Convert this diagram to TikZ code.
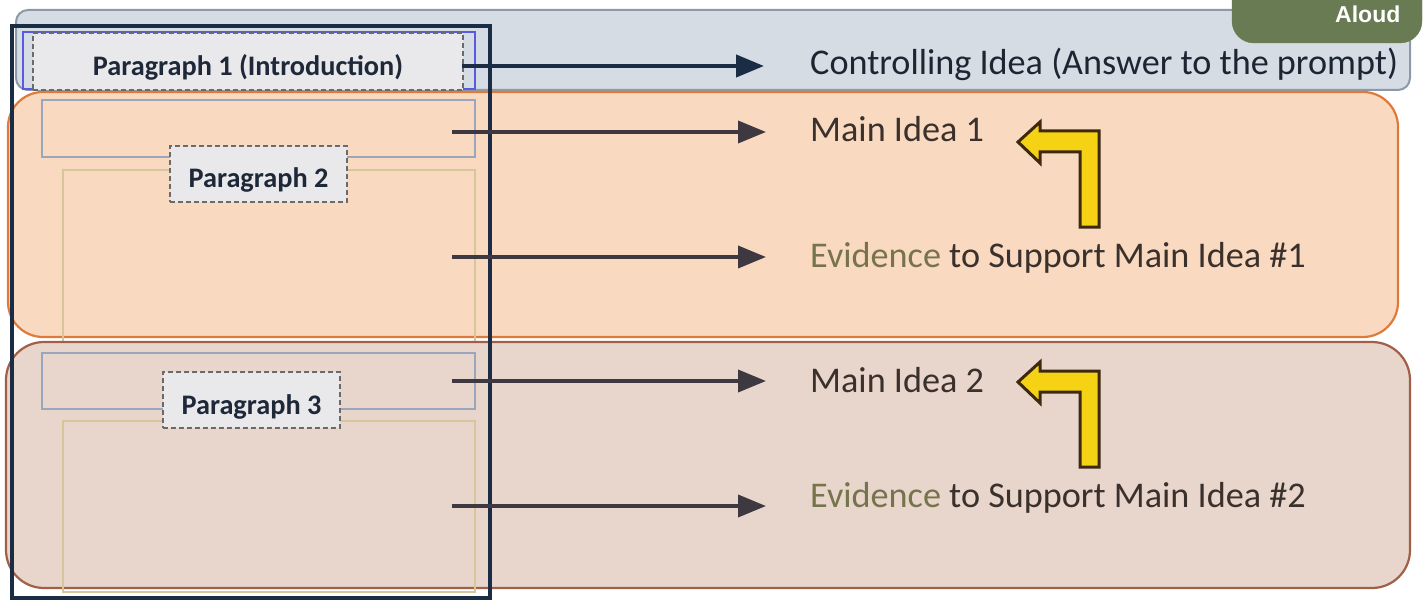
\documentclass[tikz,border=0pt]{standalone}
\usepackage{fontspec}
\setmainfont{Carlito}
\newfontfamily\aloudfont{Liberation Sans}
\usetikzlibrary{arrows.meta}

\definecolor{topfill}{HTML}{D6DCE4}
\definecolor{topline}{HTML}{8C99A6}
\definecolor{orfill}{HTML}{FAD9C1}
\definecolor{orline}{HTML}{E07A3A}
\definecolor{brfill}{HTML}{E8D6CD}
\definecolor{brline}{HTML}{A05F46}
\definecolor{navy}{HTML}{1B2D45}
\definecolor{frameblue}{HTML}{5A5AE0}
\definecolor{innergray}{HTML}{9AA6BC}
\definecolor{innertan}{HTML}{D5C79A}
\definecolor{labelfill}{HTML}{E9E9EC}
\definecolor{dashgray}{HTML}{6A6A6A}
\definecolor{labeltext}{HTML}{1E2838}
\definecolor{arrowdark}{HTML}{3E3840}
\definecolor{ctltext}{HTML}{1C2633}
\definecolor{bodytext}{HTML}{3A302C}
\definecolor{evidence}{HTML}{76744A}
\definecolor{aloudgreen}{HTML}{687B52}
\definecolor{bentfill}{HTML}{F5D214}
\definecolor{bentline}{HTML}{3D2810}

\tikzset{
  parlabel/.style={draw=dashgray, line width=2pt, dash pattern=on 5pt off 3pt,
    fill=labelfill, inner sep=0pt, text height=28pt, text depth=0pt,
    text=labeltext, font=\fontsize{28.3}{33}\selectfont\bfseries},
  idea/.style={anchor=base west, inner sep=0pt, text=bodytext,
    font=\fontsize{36.2}{42}\selectfont},
  linkarrow/.style={line width=3.8pt, draw=arrowdark,
    -{Triangle[length=28pt,width=22pt]}},
  bentarrow/.style={fill=bentfill, draw=bentline, line width=3pt},
  innerrect/.style={line width=2pt},
}

\begin{document}
\begin{tikzpicture}[x=1pt,y=-1pt]
\useasboundingbox (0,0) rectangle (1428,607);

% band for the introduction
\draw[fill=topfill, draw=topline, line width=2pt, rounded corners=12pt]
  (16,10) rectangle (1410,90);

% paragraph 2 band with its inner outlines
\draw[fill=orfill, draw=orline, line width=2.2pt, rounded corners=35pt]
  (8,92) rectangle (1398,337);
\draw[innerrect, draw=innergray] (42,100) rectangle (475,157);
\draw[innerrect, draw=innertan] (63,170) rectangle (475,345);

% paragraph 3 band with its inner outlines
\draw[fill=brfill, draw=brline, line width=2.2pt, rounded corners=38pt]
  (6,342) rectangle (1410,588);
\draw[innerrect, draw=innergray] (42,353) rectangle (475,409);
\draw[innerrect, draw=innertan] (63,421) rectangle (475,592);

% essay frame and introduction outline
\draw[draw=navy, line width=3.5pt] (12,26) rectangle (490,598);
\draw[draw=frameblue, line width=1.8pt] (23,32) rectangle (475,89);

% paragraph labels
\node[parlabel, minimum width=430pt, minimum height=57pt] (p1) at (248,61.5)
  {Paragraph 1 (Introduction)};
\node[parlabel, minimum width=177pt, minimum height=56pt] (p2) at (258.5,174)
  {Paragraph 2};
\node[parlabel, minimum width=177pt, minimum height=56pt] (p3) at (251.5,400)
  {Paragraph 3};

% right-hand statements
\node[idea, text=ctltext] (ctl) at (810,75) {Controlling Idea (Answer to the prompt)};
\node[idea] (mi1) at (810,142) {Main Idea 1};
\node[idea] (ev1) at (810,267) {\textcolor{evidence}{Evidence} to Support Main Idea \#1};
\node[idea] (mi2) at (810,392) {Main Idea 2};
\node[idea] (ev2) at (810,507) {\textcolor{evidence}{Evidence} to Support Main Idea \#2};

% arrow end points
\coordinate (a1s) at (462,66);  \coordinate (a1e) at (764,66);
\coordinate (a2s) at (452,132); \coordinate (a2e) at (766,132);
\coordinate (a3s) at (452,257); \coordinate (a3e) at (766,257);
\coordinate (a4s) at (452,381); \coordinate (a4e) at (766,381);
\coordinate (a5s) at (452,506); \coordinate (a5e) at (766,506);

\draw[linkarrow, draw=navy, fill=navy, line width=4.2pt] (a1s) -- (a1e);
\draw[linkarrow, fill=arrowdark] (a2s) -- (a2e);
\draw[linkarrow, fill=arrowdark] (a3s) -- (a3e);
\draw[linkarrow, fill=arrowdark] (a4s) -- (a4e);
\draw[linkarrow, fill=arrowdark] (a5s) -- (a5e);

% bent arrows pointing from evidence up to the main idea
\draw[bentarrow] (1018,142) -- (1040,122) -- (1040,131) -- (1099,131)
  -- (1099,227) -- (1080,227) -- (1080,152) -- (1040,152) -- (1040,163) -- cycle;
\begin{scope}[shift={(0,240)}]
\draw[bentarrow] (1018,142) -- (1040,122) -- (1040,131) -- (1099,131)
  -- (1099,227) -- (1080,227) -- (1080,152) -- (1040,152) -- (1040,163) -- cycle;
\end{scope}

% corner tab
\draw[fill=aloudgreen, draw=aloudgreen, rounded corners=22pt]
  (1232,-40) rectangle (1422,43);
\node[anchor=base west, inner sep=0pt, text=white,
  font=\aloudfont\fontsize{23}{26}\selectfont\bfseries] (aloud) at (1335,23) {Aloud};
\end{tikzpicture}
\end{document}
